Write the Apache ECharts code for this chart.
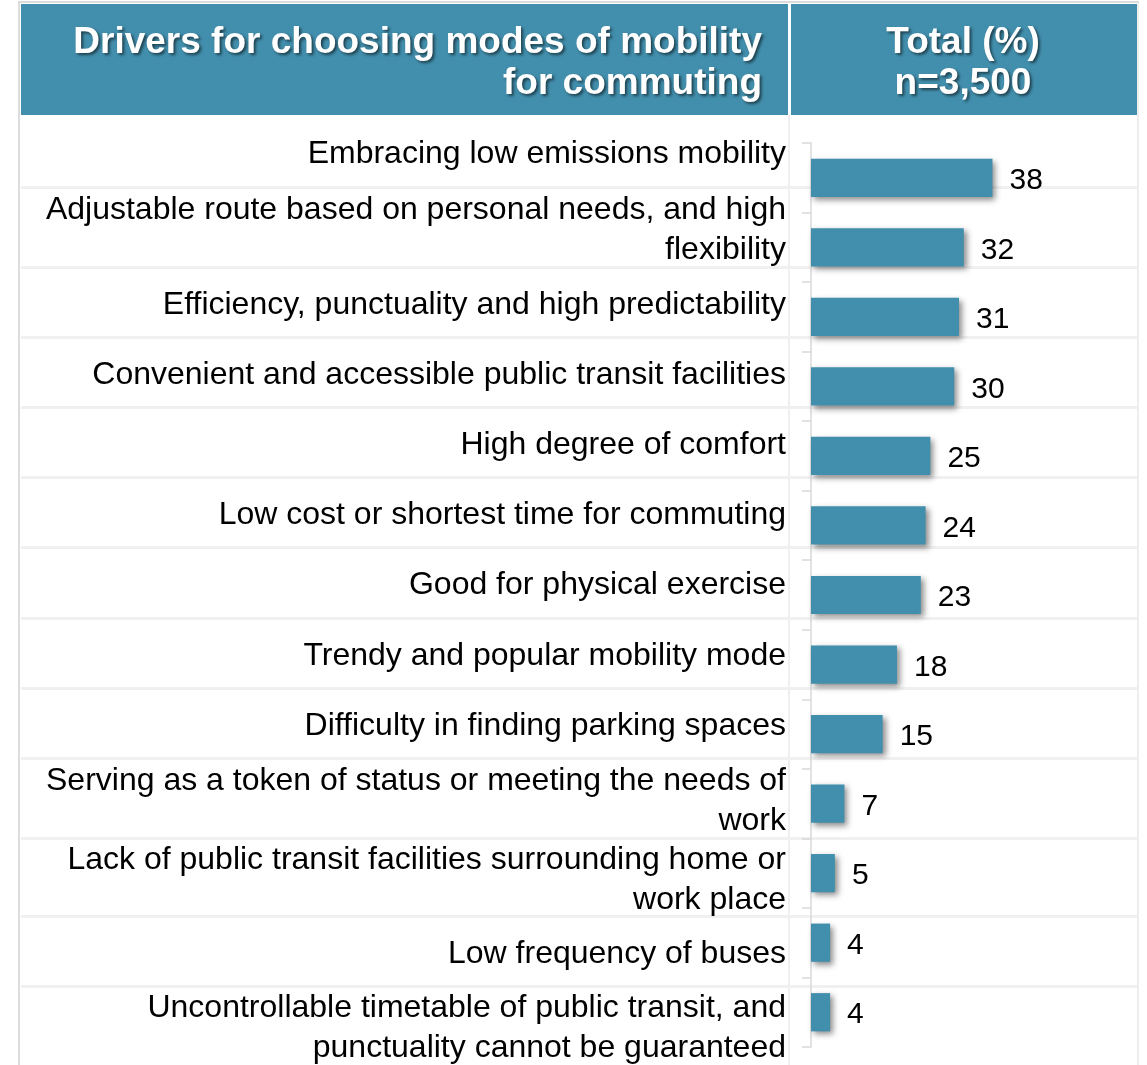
<!DOCTYPE html>
<html>
<head>
<meta charset="utf-8">
<title>Drivers for choosing modes of mobility for commuting</title>
<script src="https://cdn.jsdelivr.net/npm/echarts@6/dist/echarts.min.js"></script>
<style>
  html, body { margin: 0; padding: 0; background: #fff; }
  #chart { width: 1147px; height: 1065px; }
</style>
</head>
<body>
<div id="chart"></div>
<script>
// data
const categories = [
  "Embracing low emissions mobility",
  "Adjustable route based on personal needs, and high\nflexibility",
  "Efficiency, punctuality and high predictability",
  "Convenient and accessible public transit facilities",
  "High degree of comfort",
  "Low cost or shortest time for commuting",
  "Good for physical exercise",
  "Trendy and popular mobility mode",
  "Difficulty in finding parking spaces",
  "Serving as a token of status or meeting the needs of\nwork",
  "Lack of public transit facilities surrounding home or\nwork place",
  "Low frequency of buses",
  "Uncontrollable timetable of public transit, and\npunctuality cannot be guaranteed"
];
const values = [38, 32, 31, 30, 25, 24, 23, 18, 15, 7, 5, 4, 4];
const headerLeft = "Drivers for choosing modes of mobility\nfor commuting";
const headerRight = "Total (%)\nn=3,500";

// table layout (row borders of the left column, px)
const rowEdges = [116, 187, 267, 337, 407, 477, 547, 618, 688, 758, 838, 916, 986, 1065];

const teal = "#428fad";
const font = "'Liberation Sans', Arial, Helvetica, sans-serif";

const chart = echarts.init(document.getElementById("chart"));

const graphic = [];
// outer borders
graphic.push({ type: "rect", shape: { x: 18, y: 1, width: 2, height: 1064 }, style: { fill: "#dcdcdc" }, z: 0 });
graphic.push({ type: "rect", shape: { x: 18, y: 1, width: 1121, height: 2 }, style: { fill: "#dcdcdc" }, z: 0 });
graphic.push({ type: "rect", shape: { x: 1137, y: 3, width: 2, height: 1062 }, style: { fill: "#eeeeee" }, z: 0 });
// header cells
graphic.push({ type: "rect", shape: { x: 21, y: 4, width: 767, height: 111 }, style: { fill: teal }, z: 1 });
graphic.push({ type: "rect", shape: { x: 791, y: 4, width: 346, height: 111 }, style: { fill: teal }, z: 1 });
// column separator
graphic.push({ type: "rect", shape: { x: 788, y: 115, width: 2, height: 950 }, style: { fill: "#efefef" }, z: 0 });
// row separators
rowEdges.slice(1, -1).forEach(function (y) {
  graphic.push({ type: "rect", shape: { x: 21, y: y - 1, width: 1116, height: 3 }, style: { fill: "#f0f0f0" }, z: 0 });
});
// header texts
const headStyle = {
  fill: "#fff",
  font: "bold 37px " + font,
  lineHeight: 41,
  textShadowColor: "rgba(0,0,0,0.55)",
  textShadowBlur: 3,
  textShadowOffsetX: 2,
  textShadowOffsetY: 2,
  verticalAlign: "middle"
};
graphic.push({ type: "text", x: 762, y: 63, z: 5, style: Object.assign({ text: headerLeft, align: "right" }, headStyle) });
graphic.push({ type: "text", x: 963, y: 63, z: 5, style: Object.assign({ text: headerRight, align: "center" }, headStyle) });
// category labels, centred in their table rows
categories.forEach(function (name, i) {
  graphic.push({
    type: "text",
    x: 786,
    y: (rowEdges[i] + rowEdges[i + 1]) / 2 + 3,
    z: 5,
    style: {
      text: name,
      fill: "#000",
      font: "32px " + font,
      lineHeight: 40,
      align: "right",
      verticalAlign: "middle"
    }
  });
});

chart.setOption({
  animation: false,
  backgroundColor: "#fff",
  textStyle: { fontFamily: font },
  graphic: graphic,
  grid: {
    left: 811,
    top: 143,
    width: 191,
    height: 904
  },
  xAxis: {
    type: "value",
    min: 0,
    max: 40,
    show: false
  },
  yAxis: {
    type: "category",
    inverse: true,
    data: categories,
    axisLine: { show: true, lineStyle: { color: "#d9d9d9", width: 1.5 } },
    axisTick: { show: true, length: 9, lineStyle: { color: "#d9d9d9", width: 1.5 } },
    axisLabel: { show: false },
    splitLine: { show: false }
  },
  series: [
    {
      type: "bar",
      data: values,
      barCategoryGap: "45%",
      itemStyle: {
        color: teal,
        shadowColor: "rgba(0,0,0,0.45)",
        shadowBlur: 6,
        shadowOffsetX: 3,
        shadowOffsetY: 3
      },
      label: {
        show: true,
        position: "right",
        distance: 17,
        offset: [0, 3],
        color: "#000",
        fontSize: 30,
        fontFamily: font
      }
    }
  ]
});
</script>
</body>
</html>
